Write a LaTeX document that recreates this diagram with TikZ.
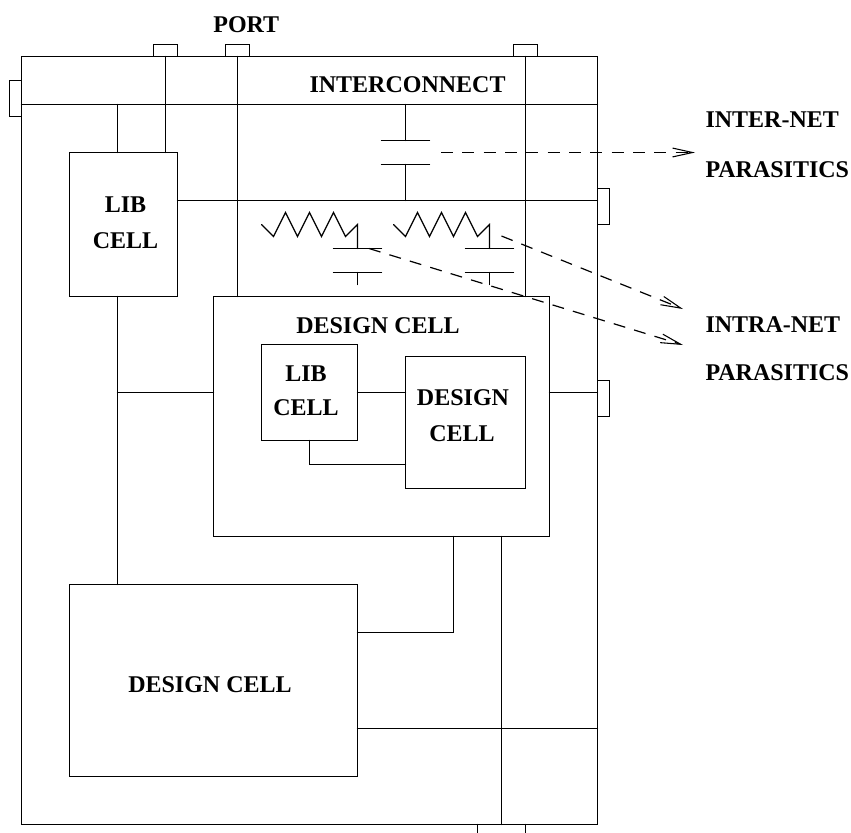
\documentclass[tikz,border=0pt]{standalone}
\usepackage{fontspec}
\setmainfont{Liberation Serif}
\usetikzlibrary{arrows.meta}
\tikzset{
  wire/.style={line width=0.9pt,line cap=round,line join=miter},
  boxx/.style={draw,line width=0.9pt,rectangle,outer sep=0pt,inner sep=0pt,minimum width=#1},
  boxy/.style={minimum height=#1},
  lab/.style={font=\fontsize{18pt}{27.5pt}\selectfont\bfseries,inner sep=0pt,outer sep=0pt,align=center},
  para/.style={line width=0.9pt,dash pattern=on 9pt off 7pt,-{Straight Barb[length=15pt,width=7.5pt,angle'=25,line width=0.8pt]}},
}
\newcommand{\cellbox}[5]{% name, x1, y1, x2, y2
  \pgfmathsetmacro{\cbW}{(#4-#2)*0.75}\pgfmathsetmacro{\cbH}{(#5-#3)*0.75}
  \node[boxx=\cbW pt,boxy=\cbH pt] (#1) at ({(#2+#4)/2},{(#3+#5)/2}) {};}
\begin{document}
\begin{tikzpicture}[x=0.75pt,y=-0.75pt]
\useasboundingbox (0,0) rectangle (851,833);
% vertical and horizontal positions
\coordinate (xa) at (117.5,0);
\coordinate (xb) at (165.5,0);
\coordinate (xc) at (237.5,0);
\coordinate (xd) at (525.5,0);
\coordinate (xe) at (405.5,0);
\coordinate (xf) at (453.5,0);
\coordinate (xg) at (501.5,0);
\coordinate (xh) at (309.5,0);
\coordinate (bus) at (0,104.5);
\coordinate (ya) at (0,200.5);
\coordinate (yb) at (0,392.5);
\coordinate (yc) at (0,464.5);
\coordinate (yd) at (0,632.5);
\coordinate (ye) at (0,728.5);
% ports
\cellbox{pa}{153.5}{44.5}{177.5}{56.5}
\cellbox{pb}{225.5}{44.5}{249.5}{56.5}
\cellbox{pc}{513.5}{44.5}{537.5}{56.5}
\cellbox{pl}{9.5}{80.5}{21.5}{116.5}
\cellbox{pr}{597.5}{188.5}{609.5}{224.5}
\cellbox{ps}{597.5}{380.5}{609.5}{416.5}
% chip
\cellbox{chip}{21.5}{56.5}{597.5}{824.5}
% bottom port
\coordinate (pbl) at (477.5,834);
\coordinate (pbr) at (525.5,834);
\draw[wire] (pbl |- chip.south) -- (pbl);
\draw[wire] (pbr |- chip.south) -- (pbr);
% cells
\cellbox{lib}{69.5}{152.5}{177.5}{296.5}
\cellbox{des}{213.5}{296.5}{549.5}{536.5}
\cellbox{ilib}{261.5}{344.5}{357.5}{440.5}
\cellbox{ides}{405.5}{356.5}{525.5}{488.5}
\cellbox{big}{69.5}{584.5}{357.5}{776.5}
% wires
\draw[wire] (chip.west |- bus) -- (chip.east |- bus);
\draw[wire] (bus -| xa) -- (lib.north -| xa);
\draw[wire] (chip.north -| xb) -- (lib.north -| xb);
\draw[wire] (chip.north -| xc) -- (des.north -| xc);
\draw[wire] (chip.north -| xd) -- (des.north -| xd);
\draw[wire] (lib.east |- ya) -- (chip.east |- ya);
\draw[wire] (lib.south -| xa) -- (big.north -| xa);
\draw[wire] (yb -| xa) -- (des.west |- yb);
\draw[wire] (des.east |- yb) -- (chip.east |- yb);
\draw[wire] (ilib.east |- yb) -- (ides.west |- yb);
\draw[wire] (ilib.south -| xh) -- (yc -| xh) -- (ides.west |- yc);
\draw[wire] (des.south -| xf) -- (yd -| xf) -- (big.east |- yd);
\draw[wire] (des.south -| xg) -- (chip.south -| xg);
\draw[wire] (big.east |- ye) -- (chip.east |- ye);
% inter-net capacitor
\coordinate (c1a) at (381.5,140.5);
\coordinate (c1b) at (429.5,140.5);
\coordinate (c1c) at (381.5,164.5);
\coordinate (c1d) at (429.5,164.5);
\draw[wire] (bus -| xe) -- (c1a -| xe);
\draw[wire] (c1c -| xe) -- (ya -| xe);
\draw[wire] (c1a) -- (c1b);
\draw[wire] (c1c) -- (c1d);
% intra-net parasitics
\draw[wire] (261.5,224.5) -- ++(12,12) -- ++(12,-24) -- ++(12,24) -- ++(12,-24) -- ++(12,24) -- ++(12,-24) -- ++(12,24) -- ++(12,-12) -- ++(0,24);
\draw[wire] (333.5,248.5) -- (381.5,248.5);
\draw[wire] (333.5,272.5) -- (381.5,272.5);
\draw[wire] (357.5,272.5) -- (357.5,284.5);
\draw[wire] (393.5,224.5) -- ++(12,12) -- ++(12,-24) -- ++(12,24) -- ++(12,-24) -- ++(12,24) -- ++(12,-24) -- ++(12,24) -- ++(12,-12) -- ++(0,24);
\draw[wire] (465.5,248.5) -- (513.5,248.5);
\draw[wire] (465.5,272.5) -- (513.5,272.5);
\draw[wire] (489.5,272.5) -- (489.5,284.5);
% labels
\node[lab] (tport) at (246.3,24.5) {PORT};
\node[lab,anchor=west] (tic) at (309.5,84.5) {INTERCONNECT};
\node[lab,anchor=west] (tinter) at (705.5,120) {INTER-NET};
\node[lab,anchor=west] (tp1) at (705.5,169.5) {PARASITICS};
\node[lab,anchor=west] (tintra) at (705.5,325) {INTRA-NET};
\node[lab,anchor=west] (tp2) at (705.5,373) {PARASITICS};
\node[lab] (tlib) at (125.5,204.5) {LIB};
\node[lab] (tlib2) at (125.5,240.5) {CELL};
\node[lab] (tdes) at (378,325.5) {DESIGN CELL};
\node[lab] (tilib) at (306,373.5) {LIB};
\node[lab] (tilib2) at (306,407.5) {CELL};
\node[lab] (tides) at (463,397.5) {DESIGN};
\node[lab] (tides2) at (462,433.5) {CELL};
\node[lab] (tbig) at (210,684.5) {DESIGN CELL};
% parasitic arrows
\coordinate (a1) at (441,152.5);
\coordinate (a1e) at (695,152.5);
\coordinate (a2) at (369,248.5);
\coordinate (a2e) at (683,345);
\coordinate (a3) at (501.5,236);
\coordinate (a3e) at (683,309);
\draw[para] (a1) -- (a1e);
\draw[para] (a2) -- (a2e);
\draw[para] (a3) -- (a3e);
\end{tikzpicture}
\end{document}
